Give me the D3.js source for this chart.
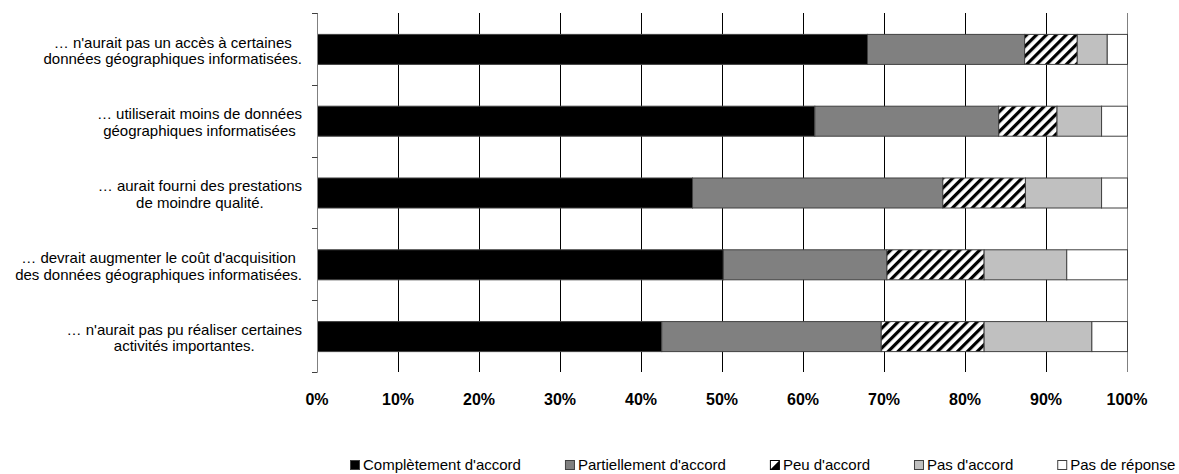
<!DOCTYPE html>
<html>
<head>
<meta charset="utf-8">
<script src="https://cdn.jsdelivr.net/npm/d3@7"></script>
<style>
  html, body { margin: 0; padding: 0; background: #fff; }
  svg { display: block; font-family: "Liberation Sans", Arial, sans-serif; }
</style>
</head>
<body>
<svg id="chart" width="1179" height="474"></svg>
<script>
// ---- data ----
const categories = [
  "… n'aurait pas un accès à certaines\ndonnées géographiques informatisées.",
  "… utiliserait moins de données\ngéographiques informatisées",
  "… aurait fourni des prestations\nde moindre qualité.",
  "… devrait augmenter le coût d'acquisition\ndes données géographiques informatisées.",
  "… n'aurait pas pu réaliser certaines\nactivités importantes."
];
const seriesNames = ["Complètement d'accord", "Partiellement d'accord", "Peu d'accord", "Pas d'accord", "Pas de réponse"];
const completement = [67.9, 61.4, 46.3, 50.1, 42.5];
const partiellement = [19.4, 22.7, 30.9, 20.2, 27.1];
const peu          = [6.5, 7.2, 10.2, 12.0, 12.7];
const pasAccord    = [3.7, 5.5, 9.4, 10.2, 13.3];
const pasReponse   = [2.5, 3.2, 3.2, 7.5, 4.4];
const xTicks = [0, 10, 20, 30, 40, 50, 60, 70, 80, 90, 100];

// ---- layout ----
const svg = d3.select("#chart");
const pLeft = 317, pRight = 1127, pTop = 13, pBottom = 372;

const rows = categories.map((c, i) => ({
  cat: c,
  [seriesNames[0]]: completement[i],
  [seriesNames[1]]: partiellement[i],
  [seriesNames[2]]: peu[i],
  [seriesNames[3]]: pasAccord[i],
  [seriesNames[4]]: pasReponse[i]
}));
const stacked = d3.stack().keys(seriesNames)(rows);

const x = d3.scaleLinear().domain([0, 100]).range([pLeft, pRight]);
const y = d3.scaleBand().domain(categories).range([pTop, pBottom])
  .paddingInner(0.582).paddingOuter(0.291);

// pattern
const defs = svg.append("defs");
const pat = defs.append("pattern").attr("id", "hatch")
  .attr("patternUnits", "userSpaceOnUse")
  .attr("width", 7).attr("height", 7)
  .attr("patternTransform", "rotate(45)");
pat.append("rect").attr("width", 7).attr("height", 7).attr("fill", "#fff");
pat.append("rect").attr("x", 0).attr("y", 0).attr("width", 3.2).attr("height", 7).attr("fill", "#000");

const fills = ["#000000", "#808080", "url(#hatch)", "#c0c0c0", "#ffffff"];

// gridlines
svg.append("g").selectAll("line").data(xTicks.filter(d => d > 0)).join("line")
  .attr("x1", d => x(d) + 0.5).attr("x2", d => x(d) + 0.5)
  .attr("y1", pTop).attr("y2", pBottom)
  .attr("stroke", d => d === 100 ? "#808080" : "#000")
  .attr("stroke-width", 1);

// bars
svg.append("g").selectAll("g").data(stacked).join("g")
  .attr("fill", (d, i) => fills[i])
  .selectAll("rect").data(d => d.map(v => ({ v, cat: v.data.cat }))).join("rect")
  .attr("x", d => x(d.v[0]) + 0.5)
  .attr("y", d => y(d.cat) + 0.5)
  .attr("width", d => x(d.v[1]) - x(d.v[0]))
  .attr("height", y.bandwidth())
  .attr("stroke", "#404040")
  .attr("stroke-width", 1);

// left axis
const ax = svg.append("g");
ax.append("line").attr("x1", pLeft + 0.5).attr("x2", pLeft + 0.5)
  .attr("y1", pTop).attr("y2", pBottom).attr("stroke", "#808080");
const bounds = d3.range(categories.length + 1).map(i => pTop + i * y.step());
ax.selectAll("line.t").data(bounds).join("line").attr("class", "t")
  .attr("x1", pLeft - 5).attr("x2", pLeft + 0.5)
  .attr("y1", d => Math.round(d) + 0.5).attr("y2", d => Math.round(d) + 0.5)
  .attr("stroke", "#404040");

// category labels (block right-aligned, lines centered)
const labelRight = 302, lineH = 16.6;
categories.forEach(c => {
  const lines = c.split("\n");
  const g = svg.append("g");
  const texts = lines.map((l, i) => g.append("text")
    .attr("font-size", 15).attr("fill", "#000")
    .attr("text-anchor", "middle")
    .attr("y", y(c) + y.bandwidth() / 2 - 1.3 + i * lineH)
    .text(l));
  const w = d3.max(texts, t => t.node().getComputedTextLength());
  texts.forEach(t => t.attr("x", labelRight - w / 2));
});

// x tick labels
svg.append("g").selectAll("text").data(xTicks).join("text")
  .attr("x", d => x(d)).attr("y", 405)
  .attr("text-anchor", "middle")
  .attr("font-size", 16).attr("font-weight", "bold")
  .text(d => d + "%");

// legend
const lg = svg.append("g");
let lx = 350;
seriesNames.forEach((name, i) => {
  const item = lg.append("g").attr("transform", `translate(${lx},0)`);
  const my = 460;
  if (i === 2) {
    item.append("rect").attr("x", 0.5).attr("y", my + 0.5).attr("width", 9).attr("height", 9)
      .attr("fill", "#fff").attr("stroke", "#000");
    item.append("path").attr("d", `M0.5,${my + 9.5} L9.5,${my + 0.5} L9.5,${my + 9.5} Z`).attr("fill", "#000");
  } else {
    item.append("rect").attr("x", 0.5).attr("y", my + 0.5).attr("width", 9).attr("height", 9)
      .attr("fill", fills[i]).attr("stroke", "#404040");
  }
  const t = item.append("text").attr("x", 13).attr("y", 470)
    .attr("font-size", 15).attr("fill", "#000").text(name);
  lx += 13 + t.node().getComputedTextLength() + 44;
});
</script>
</body>
</html>
